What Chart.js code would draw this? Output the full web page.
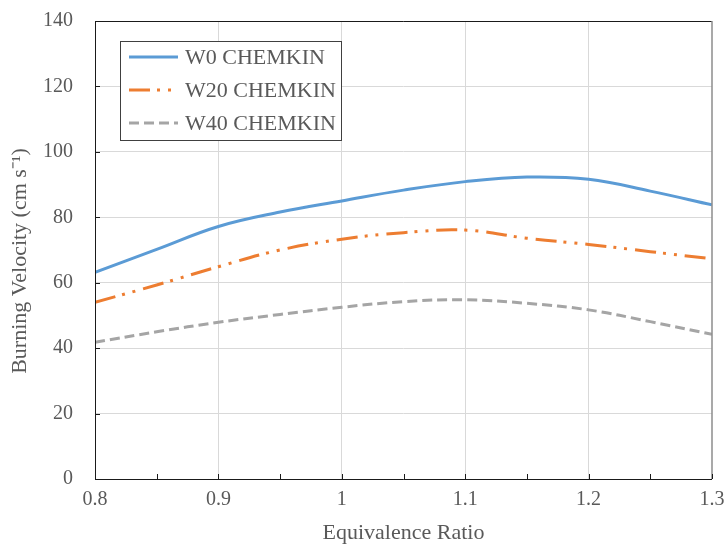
<!DOCTYPE html>
<html>
<head>
<meta charset="utf-8">
<script src="https://cdn.jsdelivr.net/npm/chart.js@4.4.0/dist/chart.umd.min.js"></script>
<style>
  html, body { margin: 0; padding: 0; background: #fff; }
</style>
</head>
<body>
<canvas id="chart" width="726" height="548"></canvas>
<script>
// equivalence ratio (x)
const ratios = [0.8, 0.85, 0.9, 0.95, 1.0, 1.05, 1.1, 1.15, 1.2, 1.25, 1.3];
// burning velocity, cm/s
const w0 = [63.2, 70.2, 77.2, 81.6, 85.0, 88.3, 90.9, 92.3, 91.6, 88.0, 83.8];
const w20 = [54.0, 59.3, 64.9, 70.0, 73.3, 75.3, 76.1, 73.6, 71.7, 69.5, 67.3];
const w40 = [41.8, 45.0, 47.9, 50.3, 52.5, 54.2, 54.8, 53.7, 51.7, 48.1, 44.2];
const seriesNames = ['W0 CHEMKIN', 'W20 CHEMKIN', 'W40 CHEMKIN'];

const FONT = "'Liberation Serif', 'Times New Roman', serif";
const TEXT = '#595959';

function pts(ys) {
  return ys.map((y, i) => ({ x: ratios[i], y: y }));
}

// frame, inward tick marks and the boxed legend
const framePlugin = {
  id: 'frame',
  afterDraw(chart) {
    const ctx = chart.ctx;
    const a = chart.chartArea;
    const xs = chart.scales.x;
    const ys = chart.scales.y;
    ctx.save();
    ctx.lineWidth = 1;
    ctx.strokeStyle = '#1a1a1a';
    ctx.beginPath();
    ctx.moveTo(a.left + 0.5, a.top + 0.5);
    ctx.lineTo(a.right, a.top + 0.5);
    ctx.moveTo(a.left + 0.5, a.top);
    ctx.lineTo(a.left + 0.5, a.bottom + 0.5);
    ctx.lineTo(a.right, a.bottom + 0.5);
    ctx.stroke();
    ctx.strokeStyle = '#8c8c8c';
    ctx.lineWidth = 1.5;
    ctx.beginPath();
    ctx.moveTo(a.right, a.top);
    ctx.lineTo(a.right, a.bottom);
    ctx.stroke();

    ctx.strokeStyle = '#1a1a1a';
    ctx.lineWidth = 1;
    ctx.beginPath();
    for (let v = 0; v <= 140; v += 20) {
      const py = Math.round(ys.getPixelForValue(v)) + 0.5;
      ctx.moveTo(a.left, py);
      ctx.lineTo(a.left + 5, py);
    }
    for (let k = 0; k <= 10; k++) {
      const px = Math.round(xs.getPixelForValue(0.8 + k * 0.05)) + 0.5;
      ctx.moveTo(px, a.bottom);
      ctx.lineTo(px, a.bottom - 5);
    }
    ctx.stroke();

    // legend
    const lx = a.left + 25, ly = a.top + 20, lw = 221, lh = 99;
    ctx.fillStyle = '#fff';
    ctx.fillRect(lx, ly, lw, lh);
    ctx.strokeStyle = '#404040';
    ctx.strokeRect(lx + 0.5, ly + 0.5, lw, lh);
    ctx.font = '22px ' + FONT;
    ctx.textBaseline = 'middle';
    ctx.fillStyle = TEXT;
    chart.data.datasets.forEach((ds, i) => {
      const cy = ly + 16 + i * 33;
      ctx.save();
      ctx.strokeStyle = ds.borderColor;
      ctx.lineWidth = ds.borderWidth;
      ctx.setLineDash(ds.borderDash || []);
      ctx.beginPath();
      ctx.moveTo(lx + 9, cy);
      ctx.lineTo(lx + 58, cy);
      ctx.stroke();
      ctx.restore();
      ctx.fillText(ds.label, lx + 65, cy + 1);
    });
    ctx.restore();
  }
};

const datasets = [
  { label: seriesNames[0], data: pts(w0), borderColor: '#5B9BD5', borderWidth: 3, borderDash: [] },
  { label: seriesNames[1], data: pts(w20), borderColor: '#ED7D31', borderWidth: 3, borderDash: [21, 7, 3, 8, 3, 8] },
  { label: seriesNames[2], data: pts(w40), borderColor: '#A5A5A5', borderWidth: 3, borderDash: [10, 5] }
];
datasets.forEach(ds => {
  ds.pointRadius = 0;
  ds.tension = 0.4;
  ds.fill = false;
});

new Chart(document.getElementById('chart').getContext('2d'), {
  type: 'line',
  data: { datasets: datasets },
  options: {
    responsive: false,
    animation: false,
    layout: { padding: { top: 21, right: 14, left: 0, bottom: 0 } },
    plugins: { legend: { display: false }, tooltip: { enabled: false } },
    scales: {
      x: {
        type: 'linear',
        min: 0.8,
        max: 1.3,
        afterFit(scale) {
          scale.height = 69;
          scale.paddingLeft = 0;
          scale.paddingRight = 0;
        },
        ticks: {
          stepSize: 0.1,
          padding: 9,
          color: TEXT,
          font: { family: FONT, size: 20 },
          maxRotation: 0,
          callback: v => String(+v.toFixed(2))
        },
        grid: {
          drawTicks: false,
          color: ctx => (ctx.tick && (ctx.tick.value <= 0.8001 || ctx.tick.value >= 1.2999)) ? 'rgba(0,0,0,0)' : '#D9D9D9'
        },
        border: { display: false },
        title: {
          display: true,
          text: 'Equivalence Ratio',
          color: TEXT,
          font: { family: FONT, size: 22 },
          padding: { top: 0, bottom: 2 }
        }
      },
      y: {
        min: 0,
        max: 140,
        afterFit(scale) {
          scale.width = 95;
          scale.paddingTop = 0;
          scale.paddingBottom = 0;
        },
        ticks: {
          stepSize: 20,
          padding: 22,
          color: TEXT,
          font: { family: FONT, size: 20 }
        },
        grid: {
          drawTicks: false,
          color: ctx => (ctx.tick && (ctx.tick.value === 0 || ctx.tick.value === 140)) ? 'rgba(0,0,0,0)' : '#D9D9D9'
        },
        border: { display: false },
        title: {
          display: true,
          text: 'Burning Velocity (cm s\u207B\u00B9)    ',
          color: TEXT,
          font: { family: FONT, size: 22 },
          padding: { top: 7, bottom: 0 }
        }
      }
    }
  },
  plugins: [framePlugin]
});
</script>
</body>
</html>
